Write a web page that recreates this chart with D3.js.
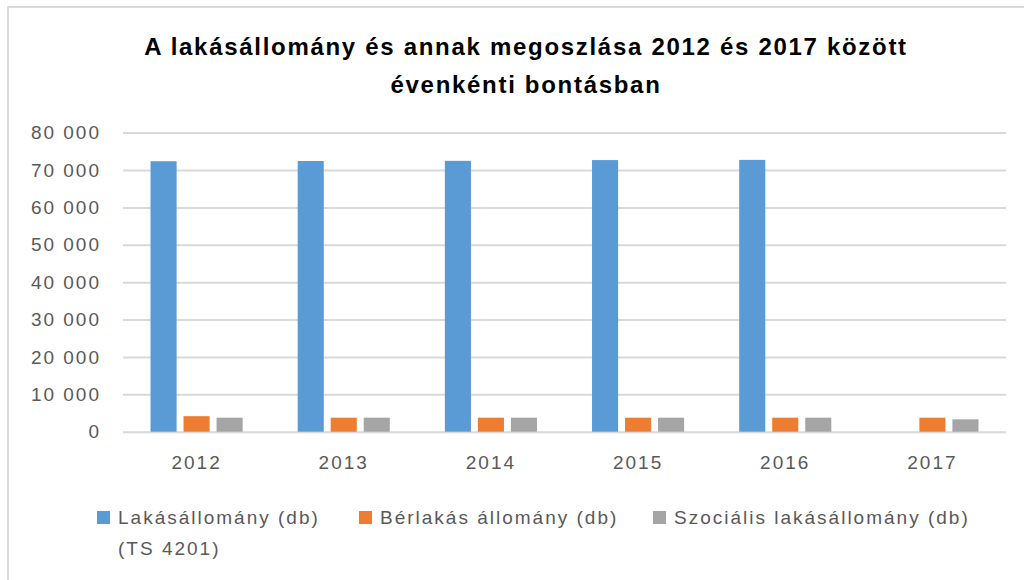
<!DOCTYPE html>
<html>
<head>
<meta charset="utf-8">
<script src="https://cdn.jsdelivr.net/npm/d3@7"></script>
<style>
  body { margin: 0; background: #fff; }
  text { font-family: "Liberation Sans", Arial, sans-serif; }
</style>
</head>
<body>
<div id="chart-area"></div>
<script>
// DATA
var years = ["2012", "2013", "2014", "2015", "2016", "2017"];
var lakasallomany = [72350, 72400, 72450, 72650, 72700, null];
var berlakas = [4150, 3750, 3750, 3750, 3750, 3750];
var szocialis = [3750, 3750, 3750, 3750, 3750, 3300];
var seriesNames = [["Lakásállomány (db)", "(TS 4201)"], ["Bérlakás állomány (db)"], ["Szociális lakásállomány (db)"]];
var yTicks = [0, 10000, 20000, 30000, 40000, 50000, 60000, 70000, 80000];
var titleLines = ["A lakásállomány és annak megoszlása 2012 és 2017 között", "évenkénti bontásban"];

var colors = ["#5b9bd5", "#ed7d31", "#a5a5a5"];
var seriesData = [lakasallomany, berlakas, szocialis];

// SIZE
var W = 1024, H = 580;
var plot = { left: 123, right: 1006, top: 132.6, bottom: 431.7 };

var svg = d3.select("#chart-area")
    .append("svg")
    .attr("width", W)
    .attr("height", H);

// Chart border
svg.append("rect")
    .attr("x", 8).attr("y", 7)
    .attr("width", 1100).attr("height", 700)
    .attr("fill", "none")
    .attr("stroke", "#d9d9d9")
    .attr("stroke-width", 2);

// Title
svg.append("text")
    .attr("text-anchor", "middle")
    .attr("font-size", "24px")
    .attr("font-weight", "bold")
    .attr("letter-spacing", "1.7px")
    .attr("fill", "#000")
    .selectAll("tspan")
    .data(titleLines)
    .enter().append("tspan")
        .attr("x", 526)
        .attr("y", (d, i) => 55 + i * 38)
        .text(d => d);

// Scales
var x0 = d3.scaleBand().domain(years)
    .range([plot.left, plot.right])
    .paddingInner(0.374).paddingOuter(0.187);
var x1 = d3.scaleBand().domain([0, 1, 2])
    .range([0, x0.bandwidth()])
    .paddingInner(0.21).paddingOuter(0);
var y = d3.scaleLinear().domain([0, 80000]).range([plot.bottom, plot.top]);

var fmt = d => d3.format(",")(d).replace(/,/g, " ");

// Gridlines + y labels
var yAxis = d3.axisLeft(y).tickValues(yTicks)
    .tickSize(-(plot.right - plot.left))
    .tickPadding(22)
    .tickFormat(fmt);

var yg = svg.append("g")
    .attr("transform", "translate(" + plot.left + ",0)")
    .call(yAxis);
yg.select(".domain").remove();
yg.selectAll(".tick line").attr("stroke", "#d9d9d9").attr("stroke-width", 2);
yg.selectAll(".tick text")
    .attr("font-family", "Liberation Sans")
    .attr("font-size", "19px")
    .attr("letter-spacing", "2px")
    .attr("fill", "#595959");

// Bars
var groups = svg.append("g").selectAll("g")
    .data(years)
    .enter().append("g")
    .attr("transform", d => "translate(" + x0(d) + ",0)");

groups.selectAll("rect")
    .data((d, i) => seriesData.map((s, k) => ({ k: k, v: s[i] })).filter(e => e.v != null))
    .enter().append("rect")
    .attr("x", d => x1(d.k))
    .attr("width", x1.bandwidth())
    .attr("y", d => y(d.v))
    .attr("height", d => y(0) - y(d.v))
    .attr("fill", d => colors[d.k]);

// X axis
var xAxis = d3.axisBottom(x0).tickSize(0).tickPadding(24);
var xg = svg.append("g")
    .attr("transform", "translate(0," + plot.bottom + ")")
    .call(xAxis);
xg.select(".domain").remove();
xg.selectAll(".tick text")
    .attr("font-family", "Liberation Sans")
    .attr("font-size", "19px")
    .attr("letter-spacing", "2px")
    .attr("fill", "#595959");

// Legend
var legendX = [97, 359, 653];
var legend = svg.append("g").selectAll("g")
    .data(seriesNames)
    .enter().append("g")
    .attr("transform", (d, i) => "translate(" + legendX[i] + ",511)");

legend.append("rect")
    .attr("width", 13).attr("height", 13)
    .attr("fill", (d, i) => colors[i]);

legend.append("text")
    .attr("font-size", "19px")
    .attr("letter-spacing", "2px")
    .attr("fill", "#595959")
    .selectAll("tspan")
    .data(d => d)
    .enter().append("tspan")
        .attr("x", 21)
        .attr("y", (d, i) => 13 + i * 31)
        .text(d => d);
</script>
</body>
</html>
